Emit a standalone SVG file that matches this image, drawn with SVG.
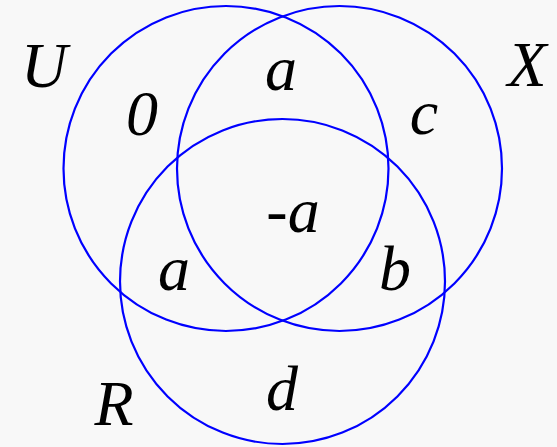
<svg xmlns="http://www.w3.org/2000/svg" width="557" height="447" viewBox="0 0 557 447">
<rect width="557" height="447" fill="#f8f8f8"/>
<g id="circles" fill="none" stroke="#0000ff" stroke-width="2.2">
<circle id="U-circle" cx="226" cy="168.5" r="162.5"/>
<circle id="X-circle" cx="339.5" cy="168.5" r="162.5"/>
<circle id="R-circle" cx="282.5" cy="281.5" r="162.5"/>
</g>
<g id="labels" font-family="Liberation Serif" font-style="italic" font-size="48" text-anchor="middle">
<text transform="translate(44,87) scale(1.3333)">U</text>
<text transform="translate(527,86) scale(1.3333)">X</text>
<text transform="translate(114,425) scale(1.3333)">R</text>
<text transform="translate(142,135) scale(1.3333)">0</text>
<text transform="translate(281,90) scale(1.3333)">a</text>
<text transform="translate(424,134) scale(1.3333)">c</text>
<text transform="translate(293,232) scale(1.3333)">-a</text>
<text transform="translate(174,290) scale(1.3333)">a</text>
<text transform="translate(395,290) scale(1.3333)">b</text>
<text transform="translate(282,410) scale(1.3333)">d</text>
</g>
</svg>
